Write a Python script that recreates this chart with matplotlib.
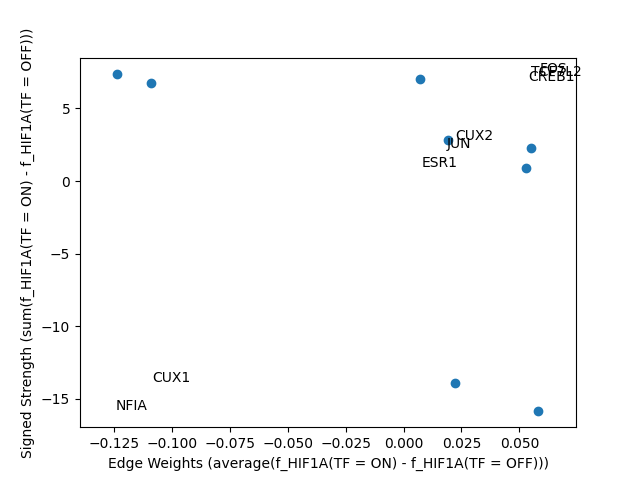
import matplotlib
matplotlib.use("Agg")
import matplotlib.pyplot as plt

# Punkte
x = [-0.124, -0.109, 0.007, 0.019, 0.055, 0.053, 0.022, 0.058]
y = [7.4, 6.75, 7.0, 2.8, 2.3, 0.9, -13.9, -15.85]

# Beschriftungen (Positionen wie im Original)
labels = ["FOS", "TCF7L2", "CREB1", "CUX2", "JUN", "ESR1", "CUX1", "NFIA"]
label_x = [0.0588, 0.055, 0.0538, 0.0225, 0.0185, 0.0078, -0.1085, -0.1245]
label_y = [7.45, 7.2, 6.9, 2.8, 2.3, 1.0, -13.85, -15.8]

fig, ax = plt.subplots(figsize=(6.4, 4.8), dpi=100)
ax.scatter(x, y)
for t, lx, ly in zip(labels, label_x, label_y):
    ax.text(lx, ly, t)
ax.set_xlabel("Edge Weights (average(f_HIF1A(TF = ON) - f_HIF1A(TF = OFF)))")
ax.set_ylabel("Signed Strength (sum(f_HIF1A(TF = ON) - f_HIF1A(TF = OFF)))")
ax.set_xlim(-0.1399, 0.0745)
ax.set_ylim(-16.95, 8.5)
plt.savefig("out.png")
